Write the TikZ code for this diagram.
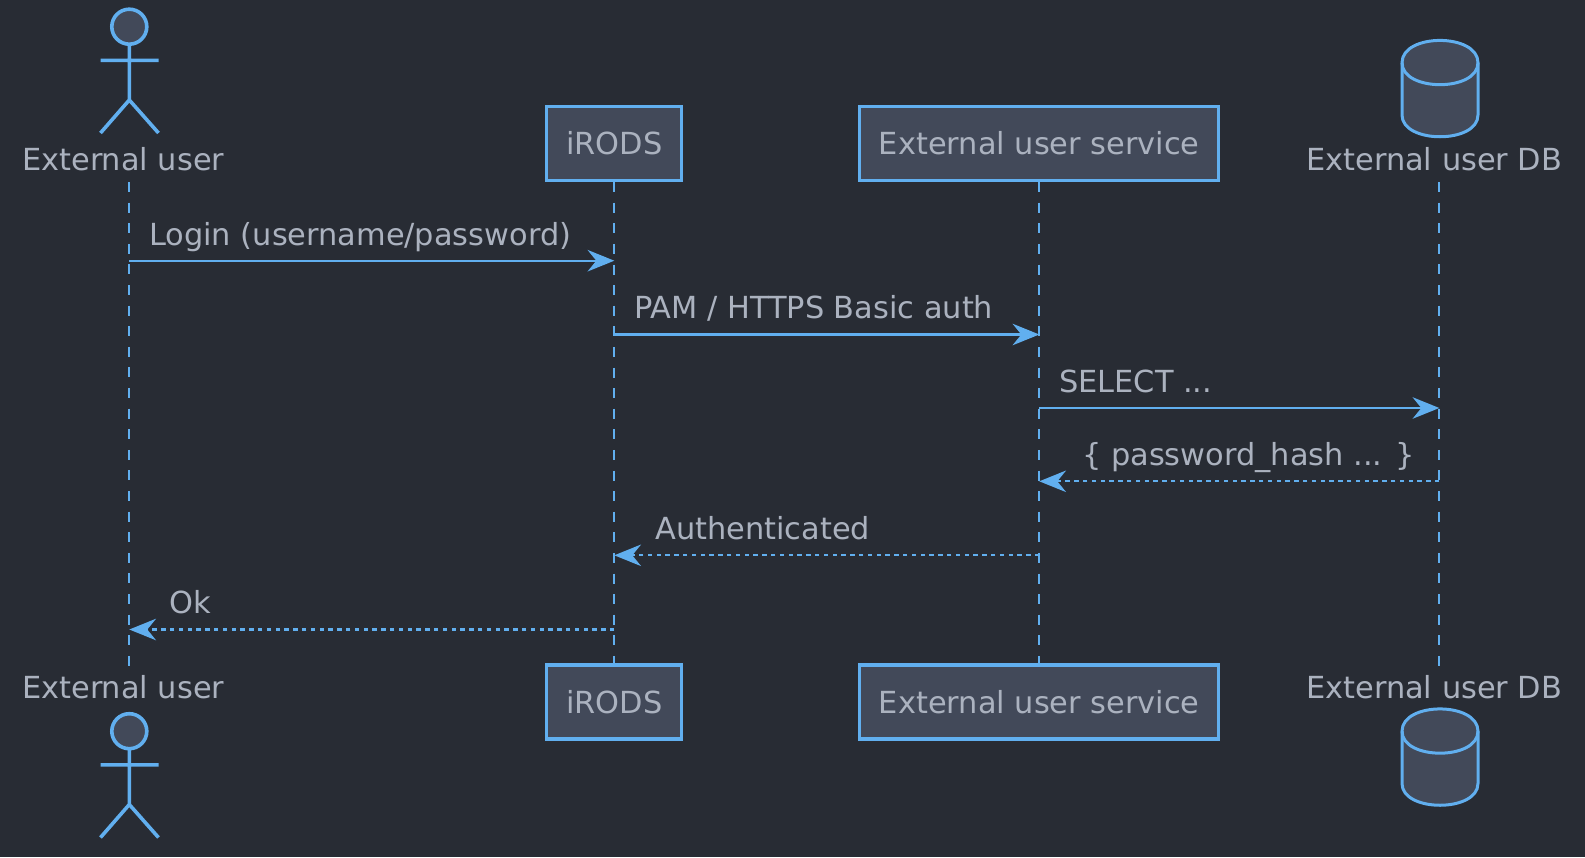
\documentclass[tikz,border=0pt]{standalone}
\usepackage{fontspec}
\setmainfont{DejaVu Sans}
\usetikzlibrary{arrows.meta}
\definecolor{bgc}{HTML}{282C34}
\definecolor{txt}{HTML}{ABB2BF}
\definecolor{lnc}{HTML}{61AFEF}
\definecolor{fil}{HTML}{424959}
\newcommand{\actorfig}[1]{%
  \filldraw[figline,fill=fil] (129.3,#1+26.7) circle (17.5);
  \draw[figline] (129.3,#1+44.2) -- (129.3,#1+100) (100.5,#1+60.3) -- (158.5,#1+60.3)
    (100.5,#1+133) -- (129.3,#1+100) -- (158.5,#1+133);}
\newcommand{\dbfig}[1]{%
  \filldraw[dbline,fill=fil] (1402,#1+62.7) .. controls (1402,#1+33) and (1478,#1+33) .. (1478,#1+62.7)
    -- (1478,#1+115) .. controls (1478,#1+144) and (1402,#1+144) .. (1402,#1+115) -- cycle;
  \draw[dbline] (1402,#1+62.7) .. controls (1402,#1+92) and (1478,#1+92) .. (1478,#1+62.7);}
\tikzset{
  x=1pt,y=-1pt,
  figline/.style={draw=lnc,line width=3.6pt},
  dbline/.style={draw=lnc,line width=3pt},
  partbox/.style={draw=lnc,fill=fil,line width=3.2pt,inner sep=0pt,minimum height=74pt,text=txt,font=\fontsize{30.4}{36}\selectfont,text depth=0pt},
  nametxt/.style={text=txt,font=\fontsize{30.4}{36}\selectfont,inner sep=0pt,anchor=base west},
  msgtxt/.style={text=txt,font=\fontsize{30.4}{36}\selectfont,inner sep=0pt,anchor=base west},
  life/.style={draw=lnc,line width=2.2pt,dash pattern=on 10pt off 10.6pt},
  call/.style={draw=lnc,line width=2.2pt,-{Stealth[length=26.7pt,width=21.5pt,inset=8.7pt,fill=lnc]}},
  reply/.style={call,dash pattern=on 4.4pt off 4.4pt},
}
\begin{document}
\begin{tikzpicture}
\useasboundingbox (0,0) rectangle (1585,857);
\fill[bgc] (0,0) rectangle (1585,857);
% lifeline anchors
\coordinate (ut) at (129.3,182);
\coordinate (ub) at (129.3,666);
\coordinate (dt) at (1439.3,182);
\coordinate (db) at (1439.3,666);
% participant boxes
\node[partbox,minimum width=135pt] (it) at (614.3,143.5) {};
\node[partbox,minimum width=359pt] (st) at (1039.3,143.5) {};
\node[partbox,minimum width=135pt] (ib) at (614.3,702) {};
\node[partbox,minimum width=359pt] (sb) at (1039.3,702) {};
% lifelines
\draw[life] (ut) -- (ub);
\draw[life] (it.south) -- (ib.north);
\draw[life] (st.south) -- (sb.north);
\draw[life] (dt) -- (db);
% box labels
\node[partbox,draw=none,fill=none,minimum height=0pt,anchor=base] (itl) at (614.3,154.5) {iRODS};
\node[partbox,draw=none,fill=none,minimum height=0pt,anchor=base] (stl) at (1039.3,154.5) {External user service};
\node[partbox,draw=none,fill=none,minimum height=0pt,anchor=base] (ibl) at (614.3,713.5) {iRODS};
\node[partbox,draw=none,fill=none,minimum height=0pt,anchor=base] (sbl) at (1039.3,713.5) {External user service};
% actors
\actorfig{0}
\actorfig{704.5}
\dbfig{0}
\dbfig{668.5}
\node[nametxt] (un) at (22,170) {External user};
\node[nametxt] (unb) at (22,698.5) {External user};
\node[nametxt] (dn) at (1306,170) {External user DB};
\node[nametxt] (dnb) at (1306,698.5) {External user DB};
% message end points
\coordinate (m1a) at (129.3,260.7); \coordinate (m1b) at (614.3,260.7);
\coordinate (m2a) at (614.3,334.5); \coordinate (m2b) at (1039.3,334.5);
\coordinate (m3a) at (1039.3,408); \coordinate (m3b) at (1439.3,408);
\coordinate (m4a) at (1439.3,481.3); \coordinate (m4b) at (1039.3,481.3);
\coordinate (m5a) at (1039.3,555.3); \coordinate (m5b) at (614.3,555.3);
\coordinate (m6a) at (614.3,629.5); \coordinate (m6b) at (129.3,629.5);
\draw[call] (m1a) -- (m1b);
\draw[call] (m2a) -- (m2b);
\draw[call] (m3a) -- (m3b);
\draw[reply] (m4a) -- (m4b);
\draw[reply] (m5a) -- (m5b);
\draw[reply] (m6a) -- (m6b);
% message labels
\node[msgtxt] (l1) at (149,245) {Login (username/password)};
\node[msgtxt] (l2) at (634,318.5) {PAM / HTTPS Basic auth};
\node[msgtxt] (l3) at (1059,392) {SELECT ...};
\node[msgtxt] (l4) at (1082,465.5) {\{ password\_hash ... \}};
\node[msgtxt] (l5) at (655,539.5) {Authenticated};
\node[msgtxt] (l6) at (169,613.5) {Ok};
\end{tikzpicture}
\end{document}
